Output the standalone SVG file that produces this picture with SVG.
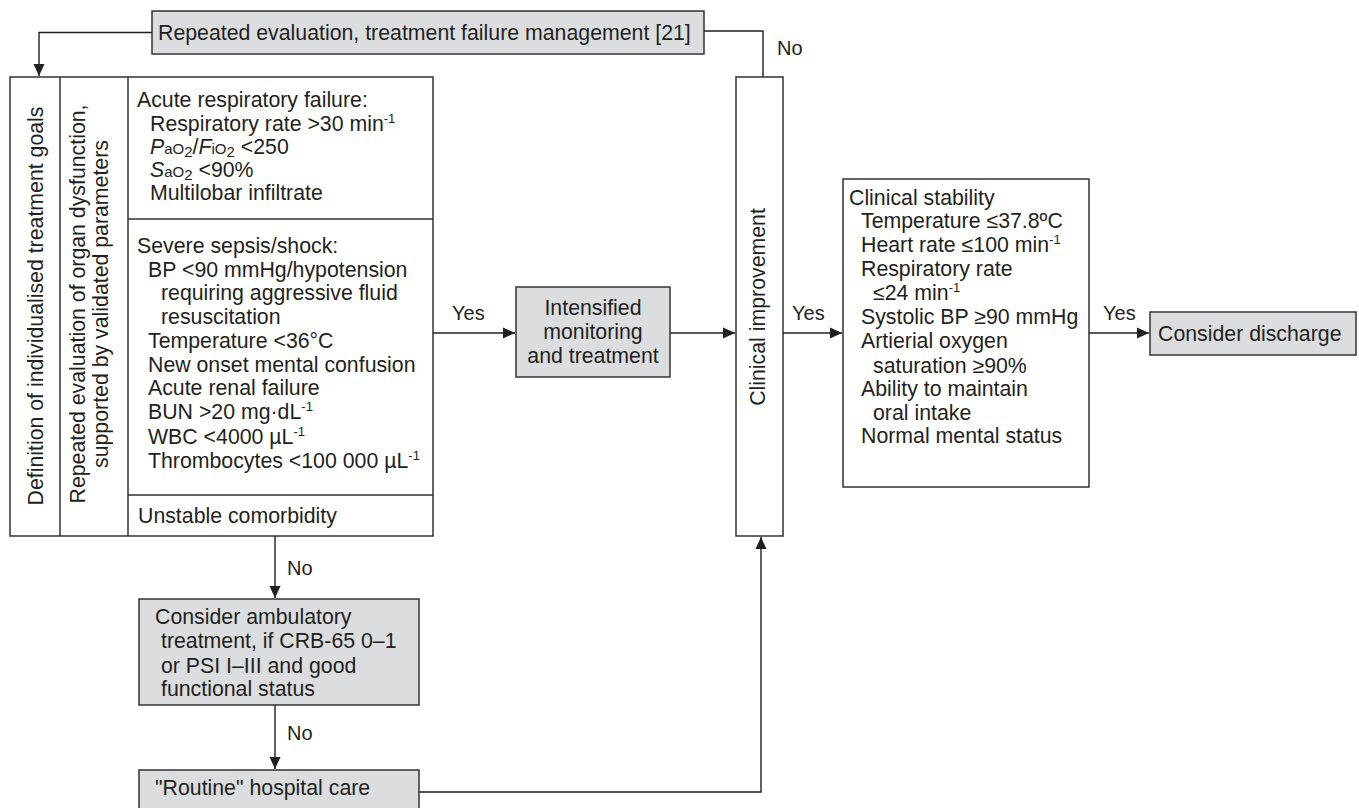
<svg xmlns="http://www.w3.org/2000/svg" width="1359" height="808" viewBox="0 0 1359 808">
<style>
text{font-family:"Liberation Sans",Arial,sans-serif;font-size:21.3px;fill:#231f20}
.box{fill:#fff;stroke:#333;stroke-width:1.5}
.gbox{fill:#dcdddf;stroke:#333;stroke-width:1.5}
.ln{fill:none;stroke:#333;stroke-width:1.5}
.con{fill:none;stroke:#231f20;stroke-width:1.4}
.sup{font-size:13px}
.sm{font-size:15px}
.it{font-style:italic}
.lbl{font-size:20px}
</style>
<defs>
<marker id="ah" markerUnits="userSpaceOnUse" markerWidth="12" markerHeight="12" refX="12" refY="6" orient="auto">
<path d="M0,0.5 L12,6 L0,11.5 z" fill="#231f20"/>
</marker>
</defs>

<g id="connectors">
<path class="con" d="M152,32.5 H39 V76" marker-end="url(#ah)"/>
<path class="con" d="M763,77 V31 H704"/>
<path class="con" d="M433,333 H515" marker-end="url(#ah)"/>
<path class="con" d="M670,333 H735" marker-end="url(#ah)"/>
<path class="con" d="M783,333 H842" marker-end="url(#ah)"/>
<path class="con" d="M1089,333 H1149" marker-end="url(#ah)"/>
<path class="con" d="M275,536 V598" marker-end="url(#ah)"/>
<path class="con" d="M275,705 V769" marker-end="url(#ah)"/>
<path class="con" d="M419,792 H761 V537" marker-end="url(#ah)"/>
<text class="lbl" x="777" y="55">No</text>
<text class="lbl" x="452" y="320">Yes</text>
<text class="lbl" x="792" y="320">Yes</text>
<text class="lbl" x="1103" y="320">Yes</text>
<text class="lbl" x="287" y="575">No</text>
<text class="lbl" x="287" y="740">No</text>
</g>

<g id="repeated-evaluation">
<rect class="gbox" x="152" y="11" width="552" height="43"/>
<text x="158" y="40">Repeated evaluation, treatment failure management [21]</text>
</g>

<g id="assessment">
<rect class="box" x="10" y="77" width="423" height="459"/>
<path class="ln" d="M60,77 V536 M128,77 V536 M128,219 H433 M128,495 H433"/>
<text transform="translate(43,306) rotate(-90)" text-anchor="middle">Definition of individualised treatment goals</text>
<text transform="translate(85,304) rotate(-90)" text-anchor="middle">Repeated evaluation of organ dysfunction,</text>
<text transform="translate(108,304) rotate(-90)" text-anchor="middle">supported by validated parameters</text>
<text x="137" y="107">Acute respiratory failure:</text>
<text x="150" y="131">Respiratory rate &gt;30 min<tspan class="sup" dy="-8">-1</tspan></text>
<text x="150" y="154"><tspan class="it">P</tspan><tspan class="sm">aO</tspan><tspan class="sm" dy="3">2</tspan><tspan dy="-3">/</tspan><tspan class="it">F</tspan><tspan class="sm">iO</tspan><tspan class="sm" dy="3">2</tspan><tspan dy="-3"> &lt;250</tspan></text>
<text x="150" y="177"><tspan class="it">S</tspan><tspan class="sm">aO</tspan><tspan class="sm" dy="3">2</tspan><tspan dy="-3"> &lt;90%</tspan></text>
<text x="150" y="200">Multilobar infiltrate</text>
<text x="137" y="253">Severe sepsis/shock:</text>
<text x="148" y="277">BP &lt;90 mmHg/hypotension</text>
<text x="161" y="300">requiring aggressive fluid</text>
<text x="161" y="324">resuscitation</text>
<text x="148" y="348">Temperature &lt;36°C</text>
<text x="148" y="372">New onset mental confusion</text>
<text x="148" y="395">Acute renal failure</text>
<text x="148" y="419">BUN &gt;20 mg·dL<tspan class="sup" dy="-8">-1</tspan></text>
<text x="148" y="444">WBC &lt;4000 µL<tspan class="sup" dy="-8">-1</tspan></text>
<text x="148" y="468">Thrombocytes &lt;100 000 µL<tspan class="sup" dy="-8">-1</tspan></text>
<text x="138" y="523">Unstable comorbidity</text>
</g>

<g id="intensified">
<rect class="gbox" x="516" y="287" width="154" height="90"/>
<text x="593" y="315" text-anchor="middle">Intensified</text>
<text x="593" y="339" text-anchor="middle">monitoring</text>
<text x="593" y="363" text-anchor="middle">and treatment</text>
</g>

<g id="clinical-improvement">
<rect class="box" x="736" y="77" width="47" height="459"/>
<text transform="translate(765,307) rotate(-90)" text-anchor="middle">Clinical improvement</text>
</g>

<g id="clinical-stability">
<rect class="box" x="843" y="179" width="246" height="308"/>
<text x="849" y="205">Clinical stability</text>
<text x="861" y="228">Temperature ≤37.8ºC</text>
<text x="861" y="252">Heart rate ≤100 min<tspan class="sup" dy="-8">-1</tspan></text>
<text x="861" y="276">Respiratory rate</text>
<text x="873" y="300">≤24 min<tspan class="sup" dy="-8">-1</tspan></text>
<text x="861" y="324">Systolic BP ≥90 mmHg</text>
<text x="861" y="348">Artierial oxygen</text>
<text x="873" y="373">saturation ≥90%</text>
<text x="861" y="396">Ability to maintain</text>
<text x="873" y="420">oral intake</text>
<text x="861" y="443">Normal mental status</text>
</g>

<g id="discharge">
<rect class="gbox" x="1150" y="312" width="206" height="43"/>
<text x="1158" y="341">Consider discharge</text>
</g>

<g id="ambulatory">
<rect class="gbox" x="139" y="599" width="280" height="106"/>
<text x="155" y="624">Consider ambulatory</text>
<text x="161" y="648">treatment, if CRB-65 0–1</text>
<text x="161" y="673">or PSI I–III and good</text>
<text x="161" y="696">functional status</text>
</g>

<g id="routine">
<rect class="gbox" x="139" y="770" width="280" height="40"/>
<text x="155" y="795">"Routine" hospital care</text>
</g>
</svg>
